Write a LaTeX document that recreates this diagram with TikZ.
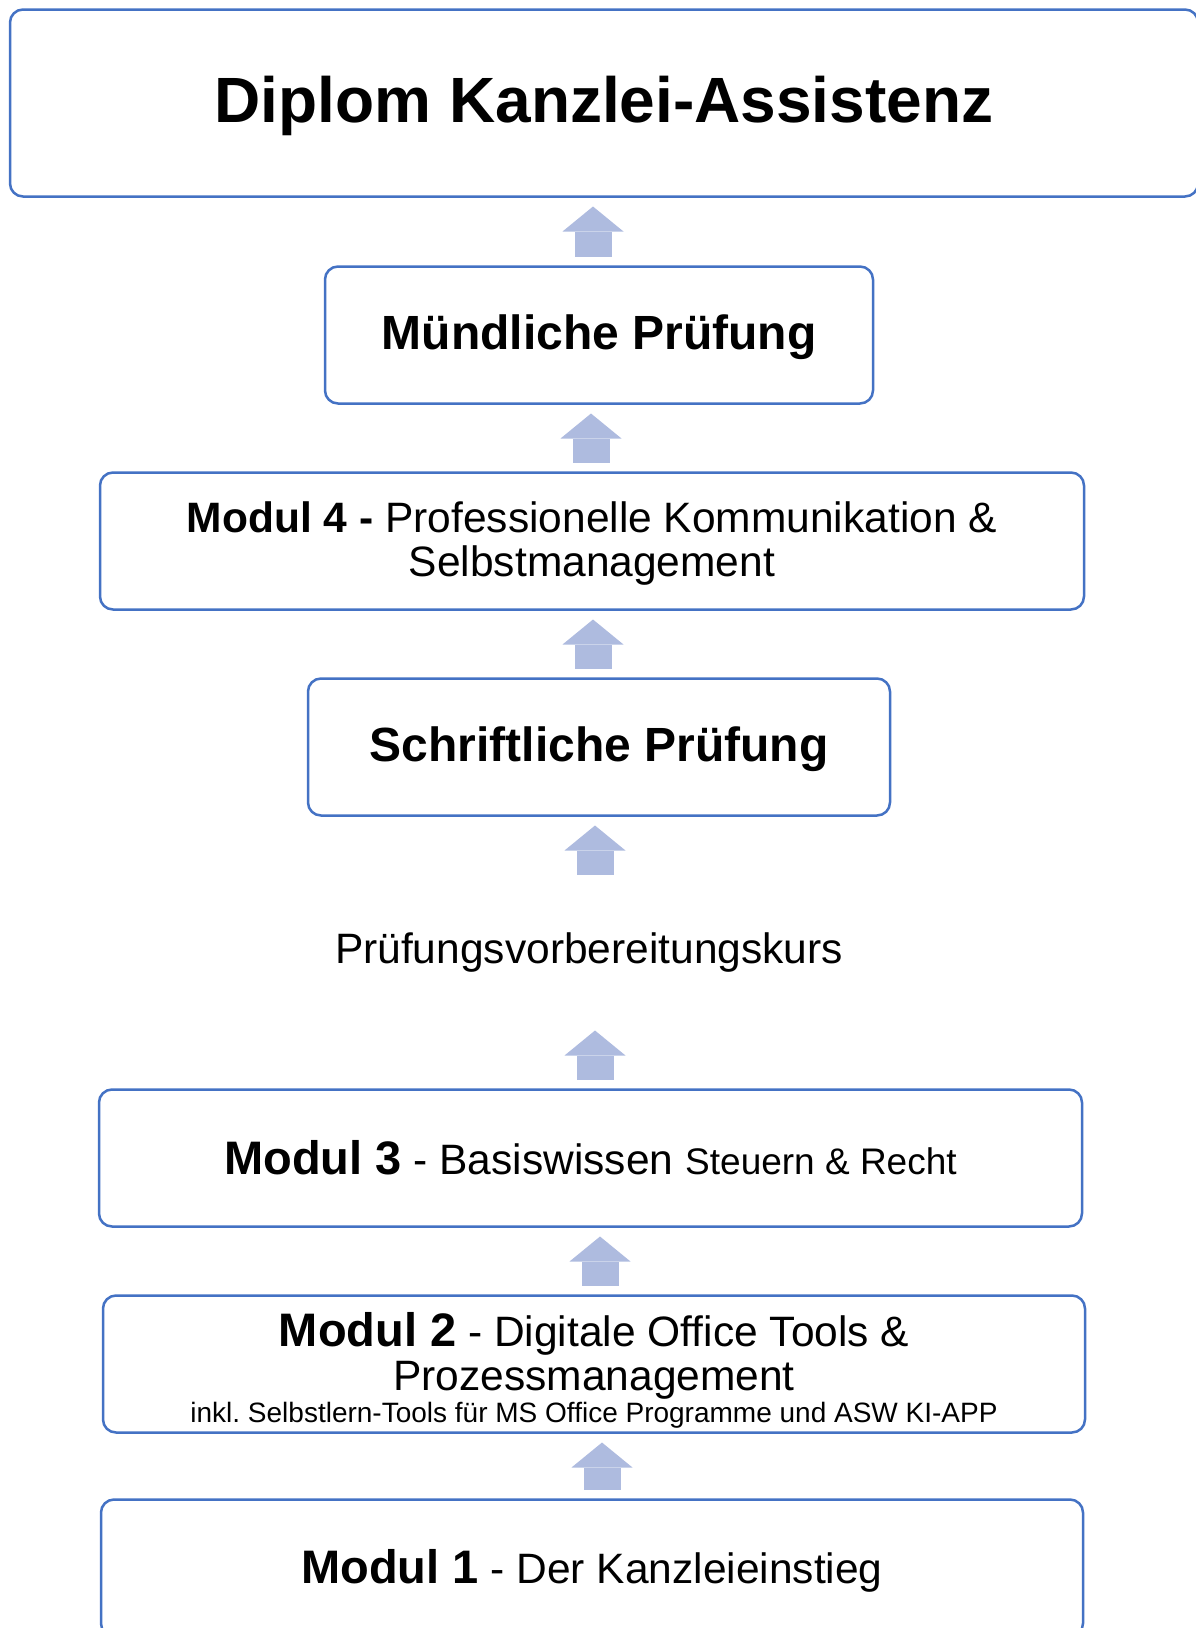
\documentclass[tikz,border=0pt]{standalone}
\usepackage{fontspec}
\setmainfont{Liberation Sans}
\usetikzlibrary{arrows.meta,positioning}
\definecolor{Frame}{HTML}{4472C4}
\definecolor{ArrowBlue}{HTML}{AEBBDF}
\newcommand{\modnum}[1]{{\bfseries\fontsize{47}{50}\selectfont #1}}
\tikzset{
 block/.style={draw=Frame, line width=2.5pt, rounded corners=13pt, fill=white, align=center, inner sep=0pt, outer sep=0pt, minimum height=137pt},
 exam/.style={block, font=\bfseries\fontsize{48}{52}\selectfont},
 modul/.style={block, font=\fontsize{42.5}{44}\selectfont},
 uparrow/.style={draw=ArrowBlue, line width=37pt, shorten <=10pt, shorten >=10pt, -{Triangle[width=61pt,length=25pt,line width=0pt]}}
}
\begin{document}
\begin{tikzpicture}[node distance=69pt]
\useasboundingbox (0,0) rectangle (1196pt,-1628pt);
\node[block, minimum width=1188pt, minimum height=187pt, font=\bfseries\fontsize{64}{70}\selectfont] (title) at (604pt,-103pt) {\rule{0pt}{53pt}Diplom Kanzlei-Assistenz};
\node[exam, minimum width=548pt, below=70pt of title, xshift=-5pt] (oral) {\rule{0pt}{40pt}Mündliche Prüfung};
\node[modul, minimum width=984pt, below=of oral, xshift=-7pt] (m4) {\rule{0pt}{36pt}\textbf{Modul 4 -} Professionelle Kommunikation \&\\Selbstmanagement};
\node[exam, minimum width=582pt, below=of m4, xshift=7pt] (written) {\rule{0pt}{40pt}Schriftliche Prüfung};
\node[font=\fontsize{42.5}{44}\selectfont, minimum height=136pt, inner sep=0pt, outer sep=0pt, below=of written, xshift=-10pt] (prep) {Prüfungsvorbereitungskurs};
\node[modul, minimum width=983pt, below=of prep, xshift=1.5pt] (m3) {\modnum{Modul 3} - Basiswissen {\fontsize{37}{40}\selectfont Steuern \& Recht}};
\node[modul, minimum width=982pt, below=of m3, xshift=3.5pt] (m2) {\rule{0pt}{46pt}\modnum{Modul 2} - Digitale Office Tools \&\\Prozessmanagement\\[-12pt]{\fontsize{28}{32}\selectfont inkl.\ Selbstlern-Tools für MS Office Programme und ASW KI-APP}};
\node[modul, minimum width=982pt, below=67pt of m2, xshift=-2pt] (m1) {\rule{0pt}{40pt}\modnum{Modul 1} - Der Kanzleieinstieg};

\draw[uparrow] ([xshift=-6pt]oral.north) -- ([xshift=-6pt]oral.north |- title.south);
\draw[uparrow] ([xshift=-1pt]m4.north) -- ([xshift=-1pt]m4.north |- oral.south);
\draw[uparrow] ([xshift=-6pt]written.north) -- ([xshift=-6pt]written.north |- m4.south);
\draw[uparrow] ([xshift=6pt]prep.north) -- ([xshift=6pt]prep.north |- written.south);
\draw[uparrow] ([xshift=4.5pt]m3.north) -- ([xshift=4.5pt]m3.north |- prep.south);
\draw[uparrow] ([xshift=6pt]m2.north) -- ([xshift=6pt]m2.north |- m3.south);
\draw[uparrow] ([xshift=10pt]m1.north) -- ([xshift=10pt]m1.north |- m2.south);
\end{tikzpicture}
\end{document}
